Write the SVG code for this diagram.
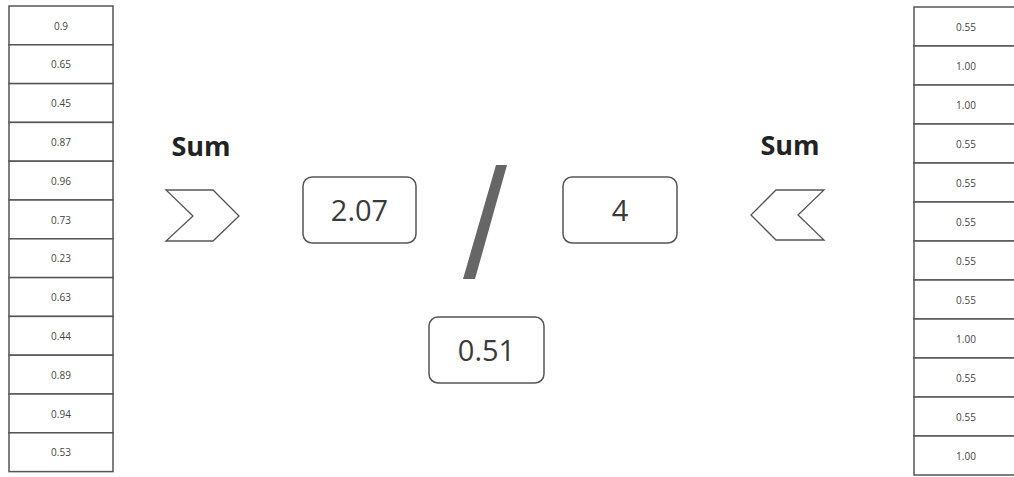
<svg xmlns="http://www.w3.org/2000/svg" width="1014" height="477" viewBox="0 0 1014 477">
<style>
.cell{fill:#fff;stroke:#555;stroke-width:1.5}
.ct{font-family:"Open Sans","Noto Sans",sans-serif;font-size:10px;fill:#444;text-anchor:middle}
.box{fill:#fff;stroke:#555;stroke-width:1.5}
.bt{font-family:"Open Sans","Noto Sans",sans-serif;font-size:29px;fill:#3a3a3a;text-anchor:middle}
.sum{font-family:"Open Sans","Noto Sans",sans-serif;font-size:27px;font-weight:bold;fill:#222;text-anchor:middle}
.chev{fill:#fff;stroke:#555;stroke-width:1.3}
</style>
<rect width="1014" height="477" fill="#fff"/>
<g id="left-table">
<rect class="cell" x="9" y="6" width="104" height="38.8"/><text class="ct" x="61" y="29.5">0.9</text>
<rect class="cell" x="9" y="44.8" width="104" height="38.8"/><text class="ct" x="61" y="68.3">0.65</text>
<rect class="cell" x="9" y="83.6" width="104" height="38.8"/><text class="ct" x="61" y="107.1">0.45</text>
<rect class="cell" x="9" y="122.4" width="104" height="38.8"/><text class="ct" x="61" y="145.9">0.87</text>
<rect class="cell" x="9" y="161.2" width="104" height="38.8"/><text class="ct" x="61" y="184.7">0.96</text>
<rect class="cell" x="9" y="200" width="104" height="38.8"/><text class="ct" x="61" y="223.5">0.73</text>
<rect class="cell" x="9" y="238.8" width="104" height="38.8"/><text class="ct" x="61" y="262.3">0.23</text>
<rect class="cell" x="9" y="277.6" width="104" height="38.8"/><text class="ct" x="61" y="301.1">0.63</text>
<rect class="cell" x="9" y="316.4" width="104" height="38.8"/><text class="ct" x="61" y="339.9">0.44</text>
<rect class="cell" x="9" y="355.2" width="104" height="38.8"/><text class="ct" x="61" y="378.7">0.89</text>
<rect class="cell" x="9" y="394" width="104" height="38.8"/><text class="ct" x="61" y="417.5">0.94</text>
<rect class="cell" x="9" y="432.8" width="104" height="38.8"/><text class="ct" x="61" y="456.3">0.53</text>
</g>
<g id="right-table">
<rect class="cell" x="914" y="7" width="106" height="39"/><text class="ct" x="966" y="30.5">0.55</text>
<rect class="cell" x="914" y="46" width="106" height="39"/><text class="ct" x="966" y="69.5">1.00</text>
<rect class="cell" x="914" y="85" width="106" height="39"/><text class="ct" x="966" y="108.5">1.00</text>
<rect class="cell" x="914" y="124" width="106" height="39"/><text class="ct" x="966" y="147.5">0.55</text>
<rect class="cell" x="914" y="163" width="106" height="39"/><text class="ct" x="966" y="186.5">0.55</text>
<rect class="cell" x="914" y="202" width="106" height="39"/><text class="ct" x="966" y="225.5">0.55</text>
<rect class="cell" x="914" y="241" width="106" height="39"/><text class="ct" x="966" y="264.5">0.55</text>
<rect class="cell" x="914" y="280" width="106" height="39"/><text class="ct" x="966" y="303.5">0.55</text>
<rect class="cell" x="914" y="319" width="106" height="39"/><text class="ct" x="966" y="342.5">1.00</text>
<rect class="cell" x="914" y="358" width="106" height="39"/><text class="ct" x="966" y="381.5">0.55</text>
<rect class="cell" x="914" y="397" width="106" height="39"/><text class="ct" x="966" y="420.5">0.55</text>
<rect class="cell" x="914" y="436" width="106" height="39"/><text class="ct" x="966" y="459.5">1.00</text>
</g>
<g id="sum-left">
<text class="sum" x="201" y="156">Sum</text>
<polygon class="chev" points="166,190 213,190 239,216 213,241 166,241 193,216"/>
</g>
<g id="sum-right">
<text class="sum" x="790" y="155">Sum</text>
<polygon class="chev" points="824,190 776,190 751,215 776,240 824,240 798,215"/>
</g>
<g id="numerator">
<rect class="box" x="303" y="177" width="113" height="66" rx="9"/>
<text class="bt" x="359.5" y="221">2.07</text>
</g>
<g id="divide">
<polygon points="496,165 507,165 475,279 463,279" fill="#666"/>
</g>
<g id="denominator">
<rect class="box" x="563" y="177" width="114" height="66" rx="9"/>
<text class="bt" x="620" y="221">4</text>
</g>
<g id="result">
<rect class="box" x="429" y="317" width="115" height="66" rx="9"/>
<text class="bt" x="486.5" y="361">0.51</text>
</g>
<g id="connectors"></g>
</svg>
